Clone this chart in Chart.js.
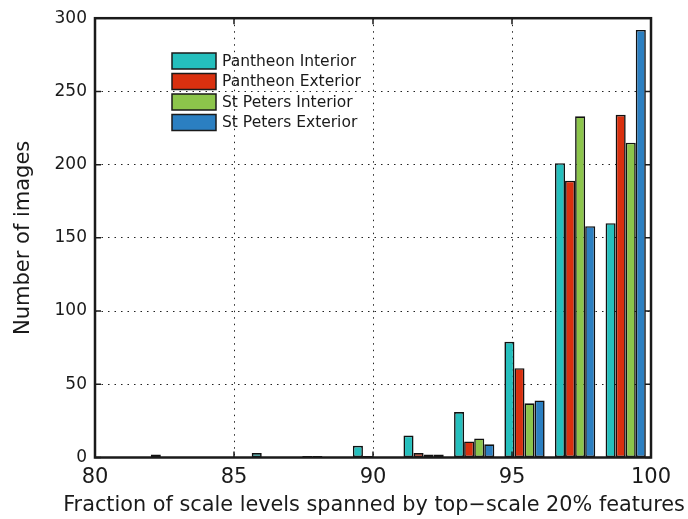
<!DOCTYPE html>
<html>
<head>
<meta charset="utf-8">
<script src="https://cdn.jsdelivr.net/npm/chart.js@4.4.0/dist/chart.umd.min.js"></script>
<style>
html, body { margin: 0; padding: 0; background: #fff; }
</style>
</head>
<body>
<canvas id="chart" width="688" height="519"></canvas>
<script>
// histogram bins (11 bins between 80 and 100), centre of each bin
const binCenters = [80.91, 82.73, 84.55, 86.36, 88.18, 90.00, 91.82, 93.64, 95.45, 97.27, 99.09];
const pantheonInterior = [0, 2, 0, 3, 1, 8, 15, 31, 79, 201, 160];
const pantheonExterior = [0, 0, 0, 0, 1, 1, 3, 11, 61, 189, 234];
const stPetersInterior = [0, 0, 0, 0, 0, 0, 2, 13, 37, 233, 215];
const stPetersExterior = [0, 0, 0, 0, 0, 0, 2, 9, 39, 158, 292];
const seriesNames = ['Pantheon Interior', 'Pantheon Exterior', 'St Peters Interior', 'St Peters Exterior'];
const seriesColors = ['#25bfbd', '#d9300f', '#8cc54b', '#2b7fc1'];
const xTicks = [80, 85, 90, 95, 100];
const yTicks = [0, 50, 100, 150, 200, 250, 300];
const xTitle = 'Fraction of scale levels spanned by top\u2212scale 20% features';

const FONT = '"DejaVu Sans", sans-serif';

function toPoints(vals) {
	return vals.map((v, i) => ({x: binCenters[i], y: v}));
}

// frame, inward ticks, x title and the legend inside the plot
const framePlugin = {
	id: 'frame',
	afterDraw(chart) {
		const ctx = chart.ctx;
		const a = chart.chartArea;
		const xs = chart.scales.x, ys = chart.scales.y;
		ctx.save();
		ctx.strokeStyle = '#1a1a1a';
		ctx.lineWidth = 1.5;
		ctx.beginPath();
		xTicks.forEach(t => {
			const px = xs.getPixelForValue(t);
			ctx.moveTo(px, a.bottom); ctx.lineTo(px, a.bottom - 6);
			ctx.moveTo(px, a.top); ctx.lineTo(px, a.top + 6);
		});
		yTicks.forEach(t => {
			const py = ys.getPixelForValue(t);
			ctx.moveTo(a.left, py); ctx.lineTo(a.left + 6, py);
			ctx.moveTo(a.right, py); ctx.lineTo(a.right - 6, py);
		});
		ctx.stroke();
		ctx.lineWidth = 2.5;
		ctx.strokeRect(a.left, a.top, a.right - a.left, a.bottom - a.top);

		// x axis title (not squeezed to the plot width)
		ctx.fillStyle = '#1a1a1a';
		ctx.font = '20.8px ' + FONT;
		ctx.textAlign = 'center';
		ctx.textBaseline = 'middle';
		ctx.fillText(xTitle, (a.left + a.right) / 2 + 1, 506);

		// legend
		let lx = 172, ly = 53;
		ctx.font = '15.5px ' + FONT;
		ctx.textAlign = 'left';
		seriesNames.forEach((name, i) => {
			const y = ly + i * 20.5;
			ctx.fillStyle = seriesColors[i];
			ctx.fillRect(lx, y, 44, 16);
			ctx.lineWidth = 1.5;
			ctx.strokeStyle = '#1a1a1a';
			ctx.strokeRect(lx, y, 44, 16);
			ctx.fillStyle = '#1a1a1a';
			ctx.fillText(name, lx + 50, y + 8.5);
		});
		ctx.restore();
	}
};

const datasets = [pantheonInterior, pantheonExterior, stPetersInterior, stPetersExterior].map((vals, i) => ({
	label: seriesNames[i],
	data: toPoints(vals),
	backgroundColor: seriesColors[i],
	borderColor: '#111',
	borderWidth: 1.6,
	borderSkipped: false,
	categoryPercentage: 0.8,
	barPercentage: 1.0,
	inflateAmount: 0
}));

new Chart(document.getElementById('chart'), {
	type: 'bar',
	data: { datasets: datasets },
	options: {
		responsive: false,
		animation: false,
		devicePixelRatio: 1,
		layout: { padding: { top: 18, right: 37, left: 0, bottom: 0 } },
		plugins: { legend: { display: false }, tooltip: { enabled: false } },
		scales: {
			x: {
				type: 'linear',
				min: 80, max: 100,
				offset: false,
				afterBuildTicks: s => { s.ticks = xTicks.map(v => ({value: v})); },
				afterFit: s => { s.height = 61.5; },
				grid: { offset: false, color: '#222', lineWidth: 1, drawTicks: false },
				border: { display: false, dash: [1.5, 5] },
				ticks: { color: '#1a1a1a', font: { family: FONT, size: 21 }, padding: 7, maxRotation: 0 }
			},
			y: {
				min: 0, max: 300,
				afterBuildTicks: s => { s.ticks = yTicks.map(v => ({value: v})); },
				afterFit: s => { s.width = 95; },
				grid: { color: '#222', lineWidth: 1, drawTicks: false },
				border: { display: false, dash: [1.5, 5] },
				ticks: { color: '#1a1a1a', font: { family: FONT, size: 17 }, padding: 8 },
				title: { display: true, text: 'Number of images',
					color: '#1a1a1a', font: { family: FONT, size: 21 }, padding: { top: 11, bottom: 0 } }
			}
		}
	},
	plugins: [framePlugin]
});
</script>
</body>
</html>
